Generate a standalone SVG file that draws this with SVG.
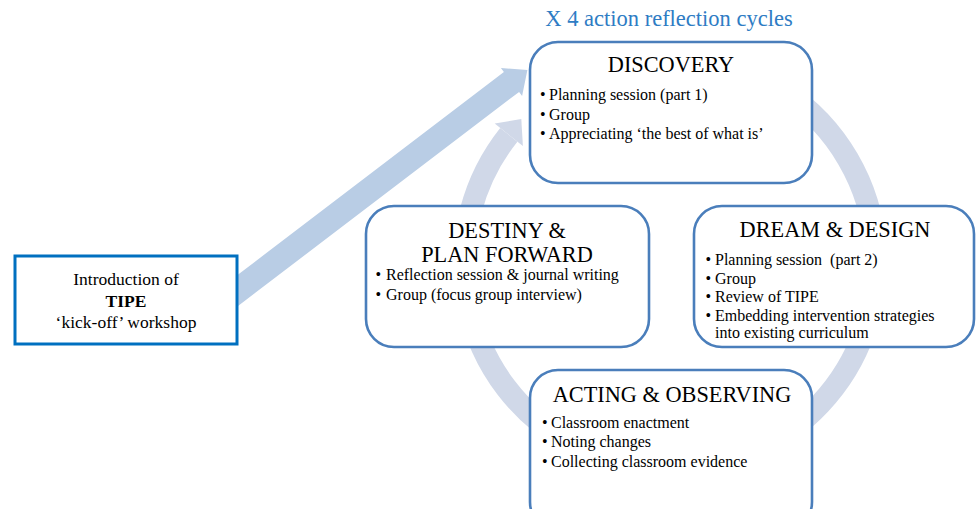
<svg xmlns="http://www.w3.org/2000/svg" width="976" height="509" viewBox="0 0 976 509">
<style>
text{font-family:"Liberation Serif","Times New Roman",serif;fill:#000}
.hd{font-size:22.3px;text-anchor:middle}
.bl{font-size:16px}
.box{fill:#fff;stroke:#4A7EBB;stroke-width:2.6}
.ring{fill:none;stroke:#D0D8E8;stroke-width:22}
</style>
<rect width="976" height="509" fill="#fff"/>
<text x="669" y="26" style="font-size:22.5px;fill:#2E7CC4;text-anchor:middle">X 4 action reflection cycles</text>
<g id="connectors">
<path class="ring" d="M705.8 60.1 A206 206 0 1 1 508.8 134.8"/>
<polygon points="494.7,123.6 522.9,146.0 521.3,119.1" fill="#D0D8E8"/>
<polygon points="212.4,294.1 503.9,72.1 500.9,68.1 527.4,69.9 522.1,95.9 519.1,91.9 227.6,313.9" fill="#B9CDE5"/>
</g>
<g id="intro">
<rect x="15" y="256" width="222" height="88" fill="#fff" stroke="#0070C0" stroke-width="3"/>
<text x="126" y="285" style="font-size:17.5px;text-anchor:middle">Introduction of</text>
<text x="126" y="307" style="font-size:17.5px;text-anchor:middle;font-weight:bold">TIPE</text>
<text x="126" y="328" style="font-size:17.5px;text-anchor:middle">‘kick-off’ workshop</text>
</g>
<g id="discovery">
<rect class="box" x="530" y="42" width="282" height="141" rx="28"/>
<text class="hd" x="671" y="72">DISCOVERY</text>
<text class="bl" x="540" y="100">•</text><text class="bl" x="549" y="100">Planning session (part 1)</text>
<text class="bl" x="540" y="120">•</text><text class="bl" x="549" y="120">Group</text>
<text class="bl" x="540" y="139">•</text><text class="bl" x="549" y="139">Appreciating ‘the best of what is’</text>
</g>
<g id="destiny">
<rect class="box" x="366" y="206" width="283" height="141" rx="28"/>
<text class="hd" x="507" y="238">DESTINY &amp;</text>
<text class="hd" x="507" y="262">PLAN FORWARD</text>
<text class="bl" x="375.5" y="280">•</text><text class="bl" x="386" y="280">Reflection session &amp; journal writing</text>
<text class="bl" x="375.5" y="300">•</text><text class="bl" x="386" y="300">Group (focus group interview)</text>
</g>
<g id="dream">
<rect class="box" x="694" y="206" width="280" height="141" rx="28"/>
<text class="hd" x="835" y="237">DREAM &amp; DESIGN</text>
<text class="bl" x="705.5" y="265">•</text><text class="bl" x="715" y="265">Planning session&#160; (part 2)</text>
<text class="bl" x="705.5" y="284">•</text><text class="bl" x="715" y="284">Group</text>
<text class="bl" x="705.5" y="302">•</text><text class="bl" x="715" y="302">Review of TIPE</text>
<text class="bl" x="705.5" y="321">•</text><text class="bl" x="715" y="321">Embedding intervention strategies</text>
<text class="bl" x="715" y="338">into existing curriculum</text>
</g>
<g id="acting">
<rect class="box" x="530" y="370" width="282" height="160" rx="28"/>
<text class="hd" x="672" y="402">ACTING &amp; OBSERVING</text>
<text class="bl" x="542" y="428">•</text><text class="bl" x="551" y="428">Classroom enactment</text>
<text class="bl" x="542" y="447">•</text><text class="bl" x="551" y="447">Noting changes</text>
<text class="bl" x="542" y="467">•</text><text class="bl" x="551" y="467">Collecting classroom evidence</text>
</g>
</svg>
